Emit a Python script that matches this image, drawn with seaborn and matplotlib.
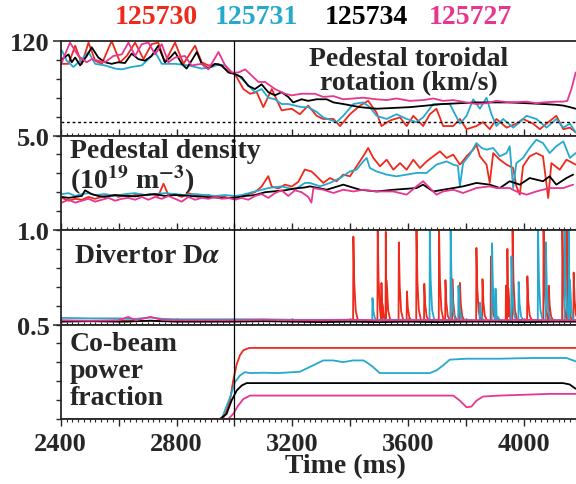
import pandas as pd
import matplotlib
matplotlib.use("Agg")
import matplotlib.pyplot as plt
from matplotlib.ticker import MultipleLocator, FixedLocator, FuncFormatter
import seaborn as sns

# shots and colours
shots = ["125730", "125731", "125734", "125727"]
colors = {"125730": "#EE2A1B", "125731": "#25A9CD", "125734": "#000000", "125727": "#E8358F"}

# ---- Pedestal toroidal rotation (km/s) ----
rot_t_730 = [2404, 2427, 2450, 2473, 2496, 2519, 2542, 2576, 2605, 2628, 2657, 2686, 2714, 2737, 2760,
             2795, 2824, 2864, 2887, 2910, 2945, 2979, 3002, 3031, 3054, 3077, 3100, 3129, 3163, 3198,
             3226, 3255, 3284, 3307, 3342, 3365, 3399, 3434, 3462, 3491, 3508, 3537, 3572, 3595, 3618,
             3652, 3675, 3698, 3721, 3756, 3779, 3802, 3836, 3859, 3882, 3905, 3940, 3974, 3997, 4032,
             4055, 4078, 4112, 4136, 4159, 4179]
rot_730 = [91, 91, 114, 91, 118, 95, 91, 120, 93, 101, 118, 97, 116, 118, 93,
           118, 91, 114, 93, 89, 91, 82, 78, 59, 53, 55, 36, 59, 32, 34,
           27, 38, 25, 21, 21, 12, 27, 38, 44, 29, 12, 19, 23, 12, 25,
           12, 27, 34, 12, 12, 21, 8, 12, 17, 8, 21, 10, 15, 21, 15,
           8, 15, 25, 8, 10, 4]

rot_t_731 = [2404, 2421, 2444, 2473, 2496, 2519, 2553, 2588, 2611, 2645, 2680, 2703, 2726, 2749, 2795,
             2841, 2887, 2921, 2945, 2968, 2991, 3014, 3037, 3071, 3094, 3117, 3140, 3163, 3186, 3209,
             3232, 3255, 3284, 3307, 3353, 3376, 3411, 3445, 3468, 3491, 3526, 3560, 3595, 3629, 3652,
             3687, 3721, 3744, 3779, 3802, 3825, 3848, 3871, 3888, 3905, 3928, 3963, 3986, 4009, 4043,
             4078, 4112, 4136, 4159, 4179]
rot_731 = [108, 95, 87, 97, 106, 91, 89, 85, 84, 87, 89, 97, 106, 91, 91,
           89, 85, 87, 90, 89, 80, 76, 68, 55, 59, 48, 46, 40, 40, 38,
           36, 36, 30, 23, 17, 25, 40, 42, 36, 25, 21, 27, 21, 17, 23,
           40, 40, 40, 15, 25, 46, 34, 48, 27, 12, 21, 10, 17, 25, 21,
           10, 21, 10, 15, 4]

rot_t_734 = [2404, 2427, 2438, 2450, 2467, 2490, 2507, 2530, 2553, 2576, 2599, 2622, 2645, 2668, 2691,
             2714, 2726, 2737, 2760, 2778, 2795, 2818, 2835, 2852, 2870, 2887, 2910, 2933, 2956, 2979,
             3002, 3025, 3048, 3071, 3094, 3117, 3140, 3163, 3186, 3203, 3232, 3255, 3284, 3319, 3342,
             3376, 3434, 3491, 3549, 3606, 3664, 3721, 3779, 3836, 3894, 3951, 4009, 4066, 4112, 4136,
             4159, 4179]
rot_734 = [97, 103, 93, 99, 89, 101, 112, 99, 93, 91, 93, 92, 104, 97, 95,
           101, 108, 114, 93, 99, 106, 91, 85, 95, 106, 91, 85, 91, 89, 80,
           78, 74, 63, 59, 65, 55, 51, 55, 49, 42, 46, 44, 46, 46, 42,
           40, 36, 34, 35, 36, 38, 40, 41, 42, 42, 42, 41, 40, 39, 38,
           36, 34]

rot_t_727 = [2404, 2432, 2461, 2490, 2507, 2553, 2582, 2611, 2634, 2657, 2680, 2703, 2726, 2749, 2772,
             2795, 2829, 2852, 2887, 2910, 2945, 2968, 2991, 3014, 3037, 3060, 3083, 3106, 3140, 3175,
             3198, 3232, 3278, 3307, 3342, 3376, 3411, 3445, 3491, 3526, 3560, 3606, 3652, 3687, 3721,
             3756, 3802, 3836, 3871, 3905, 3951, 4009, 4043, 4066, 4112, 4136, 4150, 4165, 4179]
rot_727 = [93, 118, 101, 93, 97, 93, 101, 103, 118, 101, 116, 118, 103, 116, 93,
           99, 101, 89, 91, 84, 106, 89, 80, 80, 84, 76, 68, 68, 59, 53,
           51, 53, 53, 49, 50, 46, 47, 48, 46, 45, 47, 44, 45, 47, 44,
           45, 42, 40, 41, 44, 42, 43, 41, 42, 43, 43, 44, 60, 80]

# ---- Pedestal density (1e19 m^-3) ----
den_t_730 = [2404, 2427, 2450, 2473, 2496, 2519, 2553, 2588, 2599, 2622, 2645, 2668, 2690, 2714, 2737,
             2755, 2772, 2795, 2818, 2841, 2864, 2887, 2910, 2933, 2956, 2979, 3002, 3025, 3048, 3071,
             3094, 3117, 3129, 3152, 3175, 3198, 3221, 3243, 3266, 3284, 3307, 3330, 3353, 3376, 3399,
             3422, 3445, 3462, 3480, 3503, 3526, 3549, 3572, 3595, 3618, 3641, 3664, 3687, 3710, 3733,
             3756, 3779, 3802, 3825, 3836, 3848, 3871, 3882, 3894, 3917, 3940, 3963, 3974, 3986, 3997,
             4020, 4043, 4066, 4084, 4095, 4124, 4147, 4179]
den_730 = [1.70, 1.55, 1.65, 1.60, 1.75, 1.65, 1.80, 1.85, 1.75, 1.85, 1.80, 1.90, 1.85, 1.90, 1.80,
           2.45, 1.85, 1.90, 1.75, 1.95, 1.85, 1.80, 1.85, 1.75, 1.80, 1.70, 1.75, 1.80, 1.90, 2.00,
           2.30, 2.85, 2.30, 2.20, 2.40, 2.30, 2.55, 3.20, 3.10, 2.84, 2.49, 2.75, 2.58, 2.93, 2.84,
           3.37, 3.90, 4.34, 3.81, 3.37, 3.72, 3.19, 3.54, 3.19, 3.72, 3.28, 3.63, 3.90, 4.16, 3.81,
           3.99, 3.46, 3.90, 4.25, 4.51, 3.90, 3.46, 2.49, 4.07, 3.72, 3.46, 3.28, 2.31, 1.87, 3.37,
           3.90, 4.07, 3.90, 1.69, 3.54, 3.19, 3.72, 3.46]

den_t_731 = [2404, 2427, 2450, 2473, 2496, 2519, 2553, 2588, 2622, 2657, 2691, 2726, 2760, 2795, 2829,
             2864, 2898, 2933, 2968, 3002, 3025, 3071, 3117, 3163, 3209, 3243, 3261, 3296, 3330, 3365,
             3399, 3422, 3445, 3457, 3468, 3491, 3526, 3560, 3595, 3629, 3664, 3698, 3733, 3756, 3772,
             3779, 3790, 3813, 3836, 3854, 3871, 3894, 3917, 3940, 3951, 3963, 3974, 3997, 4020, 4043,
             4066, 4089, 4112, 4136, 4159, 4179]
den_731 = [1.90, 1.95, 1.80, 1.90, 1.95, 1.85, 1.90, 1.80, 1.90, 1.95, 1.85, 1.90, 1.95, 1.90, 1.85,
           1.90, 1.85, 1.80, 1.85, 1.80, 1.85, 2.04, 2.22, 2.31, 2.13, 2.49, 2.49, 2.31, 2.49, 2.75,
           3.10, 3.19, 3.63, 3.81, 3.28, 3.10, 2.93, 2.84, 2.93, 3.02, 3.02, 3.46, 3.63, 3.46, 3.40,
           2.31, 3.54, 3.99, 4.60, 4.34, 4.25, 4.34, 3.90, 4.07, 4.43, 2.22, 3.54, 3.81, 4.34, 4.78,
           4.60, 4.07, 4.43, 4.69, 3.81, 4.07]

den_t_734 = [2404, 2427, 2450, 2473, 2484, 2507, 2530, 2553, 2588, 2622, 2657, 2691, 2726, 2760, 2795,
             2829, 2864, 2898, 2933, 2968, 3002, 3037, 3071, 3106, 3140, 3175, 3209, 3243, 3261, 3319,
             3376, 3434, 3491, 3549, 3629, 3652, 3687, 3721, 3756, 3790, 3836, 3882, 3917, 3951, 3986,
             4020, 4066, 4089, 4112, 4147, 4170]
den_734 = [1.75, 1.70, 1.75, 1.80, 2.10, 1.90, 1.80, 1.75, 1.85, 1.80, 1.78, 1.85, 1.90, 1.80, 1.85,
           1.82, 1.78, 1.75, 1.72, 1.68, 1.70, 1.80, 1.85, 2.00, 2.05, 2.10, 2.20, 2.25, 2.31, 2.13,
           2.40, 2.13, 2.04, 2.13, 2.22, 2.40, 2.04, 2.13, 2.22, 2.31, 2.49, 2.40, 2.22, 2.58, 2.40,
           2.75, 2.58, 2.84, 2.40, 2.75, 2.93]

den_t_727 = [2404, 2427, 2450, 2473, 2496, 2519, 2542, 2565, 2588, 2611, 2634, 2657, 2680, 2703, 2726,
             2749, 2772, 2795, 2818, 2841, 2864, 2887, 2910, 2933, 2956, 2979, 3002, 3025, 3048, 3071,
             3094, 3117, 3140, 3163, 3186, 3209, 3232, 3255, 3266, 3273, 3307, 3342, 3376, 3411, 3445,
             3491, 3549, 3595, 3629, 3652, 3675, 3698, 3721, 3756, 3790, 3836, 3882, 3905, 3951, 3974,
             4009, 4043, 4089, 4136, 4170]
den_727 = [1.45, 1.60, 1.45, 1.55, 1.65, 1.50, 1.60, 1.70, 1.55, 1.65, 1.70, 1.60, 1.75, 1.60, 1.75,
           1.65, 1.80, 1.65, 1.50, 1.75, 1.60, 1.70, 1.65, 1.75, 1.65, 1.70, 1.60, 1.70, 1.60, 1.80,
           1.90, 1.70, 1.95, 2.10, 1.80, 2.10, 2.00, 1.75, 1.45, 2.22, 2.13, 1.96, 2.13, 2.04, 2.13,
           2.04, 2.04, 1.87, 2.31, 2.58, 2.22, 1.87, 2.04, 2.13, 1.96, 2.22, 2.31, 2.22, 2.22, 2.04,
           1.87, 2.04, 2.22, 2.22, 2.40]

# ---- Divertor D-alpha: baselines and ELM spikes ----
da_t = [2400, 2500, 2600, 2633, 2660, 2710, 2750, 2800, 2900, 3000, 3100, 3200, 3300, 3400, 3500,
        3600, 3700, 3800, 3900, 4000, 4100, 4180]
da_730 = [0.040, 0.035, 0.040, 0.040, 0.035, 0.040, 0.035, 0.040, 0.035, 0.040, 0.035, 0.040, 0.035,
          0.040, 0.035, 0.040, 0.035, 0.040, 0.035, 0.040, 0.035, 0.040]
da_731 = [0.070, 0.065, 0.065, 0.060, 0.060, 0.075, 0.060, 0.055, 0.055, 0.055, 0.055, 0.050, 0.050,
          0.050, 0.050, 0.050, 0.050, 0.050, 0.050, 0.050, 0.050, 0.050]
da_734 = [0.030, 0.035, 0.030, 0.030, 0.035, 0.040, 0.035, 0.030, 0.030, 0.030, 0.035, 0.030, 0.025,
          0.030, 0.025, 0.030, 0.025, 0.030, 0.030, 0.025, 0.030, 0.030]
da_727 = [0.045, 0.040, 0.045, 0.080, 0.045, 0.080, 0.050, 0.045, 0.045, 0.045, 0.050, 0.045, 0.045,
          0.050, 0.045, 0.045, 0.050, 0.045, 0.045, 0.050, 0.045, 0.045]
elm_t_730 = [3411, 3495, 3508, 3523, 3568, 3596, 3629, 3656, 3707, 3729, 3753, 3779, 3836, 3857, 3886,
             3938, 3943, 3961, 4012, 4068, 4086, 4133, 4149, 4172]
elm_730 = [0.93, 1.00, 0.44, 0.98, 0.87, 0.35, 1.00, 0.43, 1.00, 0.47, 0.48, 0.44, 0.81, 0.48, 0.72,
           0.41, 0.80, 1.00, 0.51, 1.00, 0.41, 1.00, 1.00, 0.55]
elm_t_731 = [3477, 3675, 3747, 3774, 3848, 3890, 3902, 3957, 3982, 4049, 4076, 4141, 4156]
elm_731 = [0.28, 1.00, 1.00, 0.41, 0.23, 0.86, 0.38, 0.72, 0.45, 1.00, 0.87, 1.00, 1.00]

# ---- Co-beam power fraction ----
pf_t_730 = [2400, 2960, 2973, 2985, 2996, 3008, 3019, 3031, 3051, 4179]
pf_730 = [0, 0, 0.044, 0.100, 0.204, 0.290, 0.337, 0.364, 0.376, 0.376]
pf_t_731 = [2400, 2956, 2985, 3002, 3019, 3036, 3054, 3100, 3150, 3226, 3272, 3307, 3341, 3376, 3410,
            3445, 3456, 3479, 3502, 3525, 3571, 3617, 3675, 3698, 3721, 3744, 3802, 3917, 4032, 4147, 4179]
pf_731 = [0, 0, 0.115, 0.195, 0.230, 0.248, 0.243, 0.245, 0.243, 0.250, 0.284, 0.310, 0.310, 0.301, 0.310,
          0.310, 0.301, 0.275, 0.243, 0.243, 0.243, 0.243, 0.243, 0.257, 0.284, 0.314, 0.319, 0.319,
          0.323, 0.323, 0.305]
pf_t_734 = [2400, 2950, 2973, 2990, 3008, 3025, 3042, 4135, 4158, 4179]
pf_734 = [0, 0, 0.027, 0.097, 0.151, 0.177, 0.190, 0.190, 0.183, 0.160]
pf_t_727 = [2400, 2979, 2996, 3013, 3031, 3054, 3756, 3779, 3802, 3819, 3836, 3859, 3917, 4032, 4089, 4179]
pf_727 = [0, 0, 0.027, 0.071, 0.106, 0.124, 0.124, 0.097, 0.062, 0.066, 0.097, 0.119, 0.124, 0.130,
          0.133, 0.133]

panel_tops = [120, 5.0, 1.0, 0.5]
panel_top_labels = ["120", "5.0", "1.0", "0.5"]


def with_elms(base_t, base_v, spike_t, spike_h, floor=0.04):
    # put each ELM spike (fast rise, short decay) on top of the baseline
    pts = [(t, v) for t, v in zip(base_t, base_v)
           if not any(s - 2 <= t <= s + 16 for s in spike_t)]
    for s, h in zip(spike_t, spike_h):
        pts += [(s - 1, floor), (s, h), (s + 3, floor + 0.45 * (h - floor)),
                (s + 8, floor + 0.12 * (h - floor)), (s + 16, floor)]
    pts.sort()
    return [p[0] for p in pts], [p[1] for p in pts]


def long_frame(series):
    parts = []
    for shot, (t, v) in series.items():
        parts.append(pd.DataFrame({"time": t, "value": v, "shot": shot}))
    return pd.concat(parts, ignore_index=True)


da_tt_730, da_vv_730 = with_elms(da_t, da_730, elm_t_730, elm_730)
da_tt_731, da_vv_731 = with_elms(da_t, da_731, elm_t_731, elm_731)

frames = [
    long_frame({"125730": (rot_t_730, rot_730), "125731": (rot_t_731, rot_731),
                "125734": (rot_t_734, rot_734), "125727": (rot_t_727, rot_727)}),
    long_frame({"125730": (den_t_730, den_730), "125731": (den_t_731, den_731),
                "125734": (den_t_734, den_734), "125727": (den_t_727, den_727)}),
    long_frame({"125730": (da_tt_730, da_vv_730), "125731": (da_tt_731, da_vv_731),
                "125734": (da_t, da_734), "125727": (da_t, da_727)}),
    long_frame({"125730": (pf_t_730, pf_730), "125731": (pf_t_731, pf_731),
                "125734": (pf_t_734, pf_734), "125727": (pf_t_727, pf_727)}),
]

sns.set_style("ticks")
plt.rcParams["font.family"] = ["Liberation Serif", "DejaVu Serif"]
plt.rcParams["font.weight"] = "bold"
plt.rcParams["mathtext.fontset"] = "stix"

fig, axes = plt.subplots(4, 1, figsize=(5.76, 4.85), dpi=100, sharex=True,
                         gridspec_kw=dict(hspace=0))
fig.subplots_adjust(left=0.1054, right=1.0, top=0.9134, bottom=0.134)

for i, (ax, df) in enumerate(zip(axes, frames)):
    sns.lineplot(data=df, x="time", y="value", hue="shot", hue_order=shots, palette=colors,
                 estimator=None, sort=False, lw=1.3, legend=False, ax=ax)
    ax.axvline(3000, color="k", lw=0.9, zorder=5)
    top = panel_tops[i]
    ax.set_ylim(0, top)
    ax.yaxis.set_major_locator(FixedLocator([top]))
    ax.yaxis.set_minor_locator(MultipleLocator(top / 5))
    ax.yaxis.set_major_formatter(FuncFormatter(lambda v, p, s=panel_top_labels[i]: s))
    ax.set_xlim(2400, 4180)
    ax.xaxis.set_major_locator(MultipleLocator(200))
    ax.xaxis.set_minor_locator(MultipleLocator(20))
    ax.xaxis.set_major_formatter(FuncFormatter(lambda v, p: f"{int(v)}" if int(v) % 400 == 0 else ""))
    ax.set_xlabel("")
    ax.set_ylabel("")
    ax.spines["right"].set_visible(False)
    for s in ["left", "top", "bottom"]:
        ax.spines[s].set_linewidth(1.3)
    ax.tick_params(axis="y", which="major", direction="out", length=6, width=1.1,
                   labelsize=19, pad=2)
    ax.tick_params(axis="y", which="minor", direction="out", length=3.5, width=1)
    xdir = "out" if i == 3 else "in"
    ax.tick_params(axis="x", which="major", direction=xdir, length=5, width=1, labelsize=19, pad=4)
    ax.tick_params(axis="x", which="minor", direction=xdir, length=2.5, width=0.8)
    for lab in ax.get_yticklabels() + ax.get_xticklabels():
        lab.set_fontweight("bold")

axes[0].axhline(17.5, color="k", lw=1.0, ls=(0, (2, 2)))

axes[0].text(0.675, 0.95, "Pedestal toroidal\nrotation (km/s)", transform=axes[0].transAxes,
             ha="center", va="top", fontsize=20, fontweight="bold", linespacing=0.98)
axes[1].text(0.018, 0.97, "Pedestal density\n(10$^{\\mathbf{19}}$ m$^{\\mathbf{-3}}$)",
             transform=axes[1].transAxes, ha="left", va="top", fontsize=20, fontweight="bold",
             linespacing=0.95)
axes[2].text(0.025, 0.86, "Divertor D$\\alpha$", transform=axes[2].transAxes,
             ha="left", va="top", fontsize=20, fontweight="bold")
axes[3].text(0.018, 0.93, "Co-beam\npower\nfraction", transform=axes[3].transAxes,
             ha="left", va="top", fontsize=20, fontweight="bold", linespacing=1.1)

axes[3].set_xlabel("Time (ms)", fontsize=20, fontweight="bold")
axes[3].xaxis.set_label_coords(0.552, -0.36)

legend_x = [0.272, 0.445, 0.636, 0.816]
for shot, x in zip(shots, legend_x):
    fig.text(x, 0.963, shot, color=colors[shot], ha="center", va="center",
             fontsize=20, fontweight="bold")

fig.savefig("out.png", dpi=100)
